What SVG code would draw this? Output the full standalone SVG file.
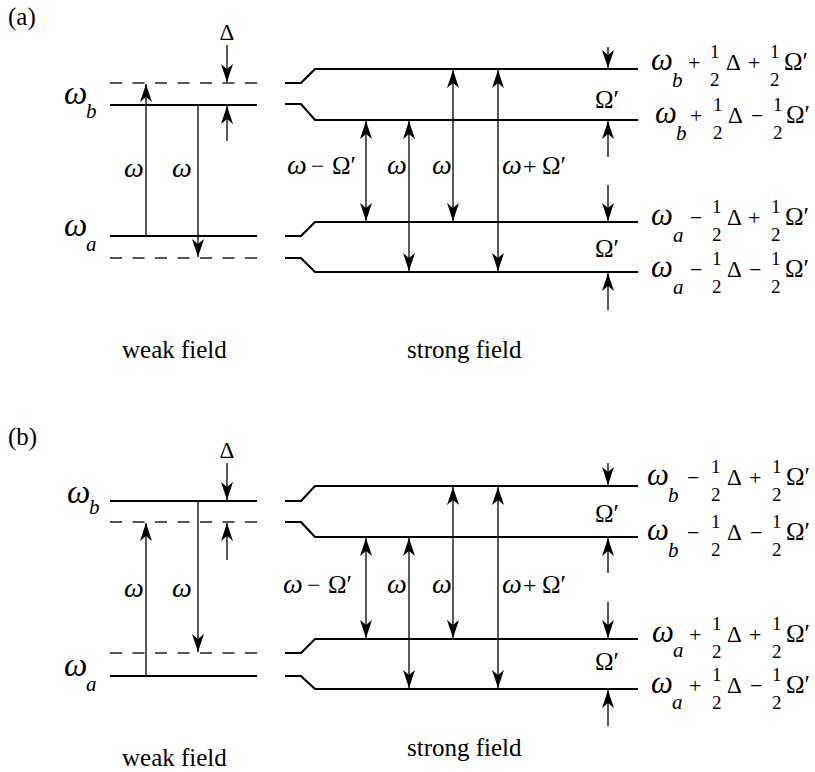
<svg xmlns="http://www.w3.org/2000/svg" width="815" height="772" viewBox="0 0 815 772">
<defs>
<marker id="ah" markerUnits="userSpaceOnUse" markerWidth="20" markerHeight="14" viewBox="-19 -7 20 14" refX="0" refY="0" orient="auto-start-reverse">
<path d="M0,0 L-18,-6 L-13,0 L-18,6 Z" fill="#000" stroke="none"/>
</marker>
</defs>

<g id="levels" stroke="#000" stroke-width="2.2" fill="none">
<g id="a-weak-levels">
<line x1="110" y1="105" x2="257" y2="105"/>
<line x1="110" y1="236" x2="257" y2="236"/>
<g stroke="#222" stroke-width="1.6" stroke-dasharray="12 10.5">
<line x1="110" y1="83" x2="257" y2="83"/>
<line x1="110" y1="258" x2="257" y2="258"/>
</g>
</g>
<g id="a-strong-levels">
<path d="M285,83 H301 L315,69 H638"/>
<path d="M285,104 H301 L315,120 H638"/>
<path d="M285,236 H301 L315,222 H638"/>
<path d="M285,258 H301 L315,272 H638"/>
</g>
<g id="b-weak-levels">
<line x1="110" y1="501" x2="257" y2="501"/>
<line x1="110" y1="676" x2="257" y2="676"/>
<g stroke="#222" stroke-width="1.6" stroke-dasharray="12 10.5">
<line x1="110" y1="522" x2="257" y2="522"/>
<line x1="110" y1="653" x2="257" y2="653"/>
</g>
</g>
<g id="b-strong-levels">
<path d="M285,501 H301 L315,486 H638"/>
<path d="M285,522 H301 L315,537 H638"/>
<path d="M285,653 H301 L315,639 H638"/>
<path d="M285,676 H301 L315,689 H638"/>
</g>
</g>

<g id="connectors" stroke="#000" stroke-width="1.3" fill="none" marker-end="url(#ah)">
<line x1="146" y1="236" x2="146" y2="84"/>
<line x1="198" y1="105" x2="198" y2="257"/>
<line x1="227" y1="45" x2="227" y2="82"/>
<line x1="227" y1="141" x2="227" y2="106"/>
<g marker-start="url(#ah)">
<line x1="366" y1="121" x2="366" y2="221"/>
<line x1="409" y1="121" x2="409" y2="271"/>
<line x1="453" y1="70" x2="453" y2="221"/>
<line x1="498" y1="70" x2="498" y2="271"/>
</g>
<line x1="608" y1="47" x2="608" y2="68"/>
<line x1="608" y1="157" x2="608" y2="121"/>
<line x1="608" y1="185" x2="608" y2="221"/>
<line x1="608" y1="310" x2="608" y2="273"/>

<line x1="146" y1="676" x2="146" y2="523"/>
<line x1="198" y1="501" x2="198" y2="652"/>
<line x1="227" y1="463" x2="227" y2="500"/>
<line x1="227" y1="560" x2="227" y2="523"/>
<g marker-start="url(#ah)">
<line x1="366" y1="538" x2="366" y2="638"/>
<line x1="409" y1="538" x2="409" y2="688"/>
<line x1="453" y1="487" x2="453" y2="638"/>
<line x1="498" y1="487" x2="498" y2="688"/>
</g>
<line x1="608" y1="463" x2="608" y2="485"/>
<line x1="608" y1="573" x2="608" y2="538"/>
<line x1="608" y1="602" x2="608" y2="638"/>
<line x1="608" y1="726" x2="608" y2="690"/>
</g>

<g id="labels" fill="#000">
<text font-family="Liberation Serif, serif" x="8" y="25" font-size="25">(a)</text>
<text font-family="Liberation Serif, serif" x="8" y="445" font-size="25">(b)</text>

<g id="a-weak-labels">
<text font-family="Liberation Serif, serif"><tspan font-style="italic" font-size="33" x="64" y="104">ω</tspan><tspan font-style="italic" font-size="21" x="86" y="118">b</tspan></text>
<text font-family="Liberation Serif, serif"><tspan font-style="italic" font-size="33" x="64" y="236">ω</tspan><tspan font-style="italic" font-size="21" x="86" y="251">a</tspan></text>
<text font-family="Liberation Serif, serif" font-style="italic" font-size="28" x="124" y="177">ω</text>
<text font-family="Liberation Serif, serif" font-style="italic" font-size="28" x="172" y="177">ω</text>
<text font-family="Liberation Serif, serif" font-size="23" x="227" y="40" text-anchor="middle">Δ</text>
</g>

<g id="a-strong-labels">
<text font-family="Liberation Serif, serif" font-size="24"><tspan font-style="italic" font-size="28" x="287" y="174">ω</tspan><tspan x="311" y="174">−</tspan><tspan font-size="25" x="332" y="174">Ω′</tspan></text>
<text font-family="Liberation Serif, serif" font-style="italic" font-size="28" x="387" y="174">ω</text>
<text font-family="Liberation Serif, serif" font-style="italic" font-size="28" x="432" y="174">ω</text>
<text font-family="Liberation Serif, serif" font-size="24"><tspan font-style="italic" font-size="28" x="502" y="174">ω</tspan><tspan x="523" y="174">+</tspan><tspan font-size="25" x="542" y="174">Ω′</tspan></text>
<text font-family="Liberation Serif, serif" font-size="25" x="595" y="108">Ω′</text>
<text font-family="Liberation Serif, serif" font-size="25" x="595" y="257">Ω′</text>
</g>

<g id="a-level-names">
<text font-family="Liberation Serif, serif" font-size="22"><tspan font-style="italic" font-size="31" x="651" y="70">ω</tspan><tspan font-style="italic" font-size="21" x="672" y="87">b</tspan><tspan x="688" y="70">+</tspan><tspan font-size="19" x="710" y="58">1</tspan><tspan font-size="19" x="710" y="86">2</tspan><tspan font-size="23" x="726" y="70">Δ</tspan><tspan x="748" y="70">+</tspan><tspan font-size="19" x="770" y="58">1</tspan><tspan font-size="19" x="770" y="86">2</tspan><tspan font-size="25" x="784" y="70">Ω′</tspan></text>
<text font-family="Liberation Serif, serif" font-size="22"><tspan font-style="italic" font-size="31" x="655" y="123">ω</tspan><tspan font-style="italic" font-size="21" x="676" y="140">b</tspan><tspan x="690" y="123">+</tspan><tspan font-size="19" x="713" y="111">1</tspan><tspan font-size="19" x="713" y="139">2</tspan><tspan font-size="23" x="728" y="123">Δ</tspan><tspan x="751" y="123">−</tspan><tspan font-size="19" x="773" y="111">1</tspan><tspan font-size="19" x="773" y="139">2</tspan><tspan font-size="25" x="786" y="123">Ω′</tspan></text>
<text font-family="Liberation Serif, serif" font-size="22"><tspan font-style="italic" font-size="31" x="651" y="225">ω</tspan><tspan font-style="italic" font-size="21" x="673" y="242">a</tspan><tspan x="690" y="225">−</tspan><tspan font-size="19" x="712" y="213">1</tspan><tspan font-size="19" x="712" y="241">2</tspan><tspan font-size="23" x="727" y="225">Δ</tspan><tspan x="748" y="225">+</tspan><tspan font-size="19" x="771" y="213">1</tspan><tspan font-size="19" x="771" y="241">2</tspan><tspan font-size="25" x="785" y="225">Ω′</tspan></text>
<text font-family="Liberation Serif, serif" font-size="22"><tspan font-style="italic" font-size="31" x="651" y="277">ω</tspan><tspan font-style="italic" font-size="21" x="673" y="294">a</tspan><tspan x="690" y="277">−</tspan><tspan font-size="19" x="712" y="265">1</tspan><tspan font-size="19" x="712" y="293">2</tspan><tspan font-size="23" x="727" y="277">Δ</tspan><tspan x="749" y="277">−</tspan><tspan font-size="19" x="771" y="265">1</tspan><tspan font-size="19" x="771" y="293">2</tspan><tspan font-size="25" x="785" y="277">Ω′</tspan></text>
</g>
<text font-family="Liberation Serif, serif" font-size="25" x="122" y="358">weak field</text>
<text font-family="Liberation Serif, serif" font-size="25" x="407" y="358">strong field</text>

<g id="b-weak-labels">
<text font-family="Liberation Serif, serif"><tspan font-style="italic" font-size="33" x="67" y="503">ω</tspan><tspan font-style="italic" font-size="21" x="89" y="514">b</tspan></text>
<text font-family="Liberation Serif, serif"><tspan font-style="italic" font-size="33" x="64" y="676">ω</tspan><tspan font-style="italic" font-size="21" x="86" y="691">a</tspan></text>
<text font-family="Liberation Serif, serif" font-style="italic" font-size="28" x="124" y="597">ω</text>
<text font-family="Liberation Serif, serif" font-style="italic" font-size="28" x="172" y="597">ω</text>
<text font-family="Liberation Serif, serif" font-size="23" x="227" y="458" text-anchor="middle">Δ</text>
</g>

<g id="b-strong-labels">
<text font-family="Liberation Serif, serif" font-size="24"><tspan font-style="italic" font-size="28" x="283" y="593">ω</tspan><tspan x="307" y="593">−</tspan><tspan font-size="25" x="328" y="593">Ω′</tspan></text>
<text font-family="Liberation Serif, serif" font-style="italic" font-size="28" x="387" y="593">ω</text>
<text font-family="Liberation Serif, serif" font-style="italic" font-size="28" x="432" y="593">ω</text>
<text font-family="Liberation Serif, serif" font-size="24"><tspan font-style="italic" font-size="28" x="502" y="593">ω</tspan><tspan x="523" y="593">+</tspan><tspan font-size="25" x="542" y="593">Ω′</tspan></text>
<text font-family="Liberation Serif, serif" font-size="25" x="595" y="522">Ω′</text>
<text font-family="Liberation Serif, serif" font-size="25" x="595" y="670">Ω′</text>
</g>

<g id="b-level-names">
<text font-family="Liberation Serif, serif" font-size="22"><tspan font-style="italic" font-size="31" x="647" y="485">ω</tspan><tspan font-style="italic" font-size="21" x="668" y="502">b</tspan><tspan x="687" y="485">−</tspan><tspan font-size="19" x="711" y="473">1</tspan><tspan font-size="19" x="711" y="501">2</tspan><tspan font-size="23" x="727" y="485">Δ</tspan><tspan x="749" y="485">+</tspan><tspan font-size="19" x="772" y="473">1</tspan><tspan font-size="19" x="772" y="501">2</tspan><tspan font-size="25" x="786" y="485">Ω′</tspan></text>
<text font-family="Liberation Serif, serif" font-size="22"><tspan font-style="italic" font-size="31" x="647" y="540">ω</tspan><tspan font-style="italic" font-size="21" x="668" y="557">b</tspan><tspan x="687" y="540">−</tspan><tspan font-size="19" x="711" y="528">1</tspan><tspan font-size="19" x="711" y="556">2</tspan><tspan font-size="23" x="727" y="540">Δ</tspan><tspan x="750" y="540">−</tspan><tspan font-size="19" x="772" y="528">1</tspan><tspan font-size="19" x="772" y="556">2</tspan><tspan font-size="25" x="786" y="540">Ω′</tspan></text>
<text font-family="Liberation Serif, serif" font-size="22"><tspan font-style="italic" font-size="31" x="652" y="642">ω</tspan><tspan font-style="italic" font-size="21" x="673" y="657">a</tspan><tspan x="689" y="642">+</tspan><tspan font-size="19" x="712" y="630">1</tspan><tspan font-size="19" x="712" y="658">2</tspan><tspan font-size="23" x="727" y="642">Δ</tspan><tspan x="749" y="642">+</tspan><tspan font-size="19" x="772" y="630">1</tspan><tspan font-size="19" x="772" y="658">2</tspan><tspan font-size="25" x="786" y="642">Ω′</tspan></text>
<text font-family="Liberation Serif, serif" font-size="22"><tspan font-style="italic" font-size="31" x="651" y="693">ω</tspan><tspan font-style="italic" font-size="21" x="672" y="709">a</tspan><tspan x="689" y="693">+</tspan><tspan font-size="19" x="712" y="681">1</tspan><tspan font-size="19" x="712" y="709">2</tspan><tspan font-size="23" x="727" y="693">Δ</tspan><tspan x="750" y="693">−</tspan><tspan font-size="19" x="772" y="681">1</tspan><tspan font-size="19" x="772" y="709">2</tspan><tspan font-size="25" x="786" y="693">Ω′</tspan></text>
</g>
<text font-family="Liberation Serif, serif" font-size="25" x="122" y="766">weak field</text>
<text font-family="Liberation Serif, serif" font-size="25" x="407" y="756">strong field</text>
</g>
</svg>
